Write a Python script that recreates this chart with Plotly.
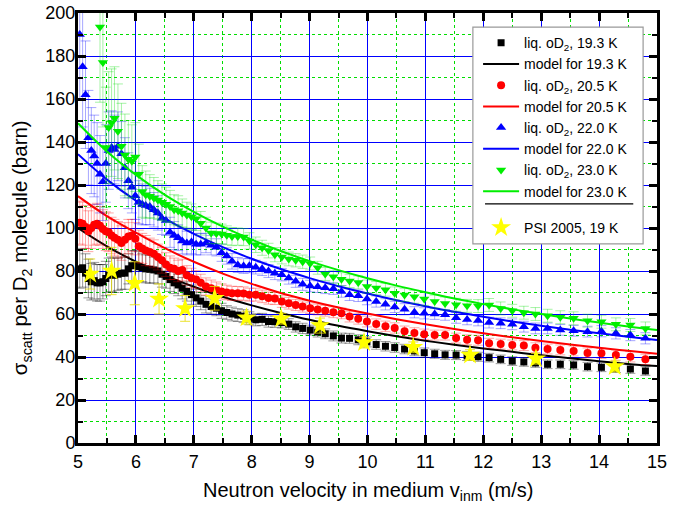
import plotly.graph_objects as go

# neutron velocity (m/s) of the measured points
v_data = [
    5.03, 5.08, 5.13, 5.18, 5.23, 5.28, 5.33, 5.38, 5.43, 5.48, 5.53, 5.58, 5.63, 5.69, 5.75, 5.81, 5.87, 5.93, 5.99,
    6.05, 6.11, 6.17, 6.24, 6.31, 6.38, 6.45, 6.52, 6.59, 6.66, 6.73, 6.80, 6.88, 6.96,
    7.04, 7.12, 7.21, 7.30, 7.39, 7.48, 7.57, 7.66, 7.76, 7.86, 7.96,
    8.07, 8.18, 8.29, 8.40, 8.52, 8.64, 8.76, 8.88,
    9.01, 9.14, 9.27, 9.41, 9.55, 9.69, 9.84, 9.99,
    10.15, 10.31, 10.47, 10.64, 10.81, 10.98,
    11.16, 11.34, 11.53, 11.72, 11.91,
    12.10, 12.30, 12.50, 12.70, 12.90,
    13.11, 13.33, 13.56, 13.80,
    14.04, 14.29, 14.54, 14.80,
]

s193 = [
    81, 81.5, 79, 76.5, 75, 75.5, 74.5, 74.5, 75, 76.5, 78, 78.5, 78, 78.5, 79, 79, 81, 82.5, 82.5,
    82, 81.5, 81, 80.8, 80.5, 80, 78.5, 77.5, 76, 74.5, 73.5, 72, 70.5, 69,
    67.5, 66, 64.5, 63.5, 62.7, 61.5, 60.7, 60, 59.5, 59, 58,
    57.3, 57.5, 56.5, 56.4, 56, 55.3, 54, 53.3,
    52.5, 51.6, 50.8, 49.8, 48.8, 48.7, 48, 47,
    45.8, 45, 44.4, 43.7, 42.8, 42,
    41.5, 41, 40.9, 40.5, 40.1,
    39.7, 38.9, 38.1, 37.7, 37.2,
    36.6, 36.6, 36.3, 35.5,
    35.2, 34.8, 34.4, 33.5,
]
e193 = [
    9, 9, 9, 9, 8.5, 8.5, 8.5, 8.5, 8, 8, 8, 8, 8, 7.5, 7.5, 7.5, 7, 7, 7,
    7, 6.5, 6.5, 6.5, 6, 6, 6, 5.5, 5.5, 5, 5, 5, 4.5, 4.5,
    4, 4, 4, 3.5, 3.5, 3.5, 3.2, 3.2, 3, 3, 3,
    2.8, 2.8, 2.6, 2.6, 2.5, 2.5, 2.4, 2.4,
    2.3, 2.3, 2.3, 2.3, 2.3, 2.3, 2.3, 2.3,
    2.2, 2.2, 2.2, 2.2, 2.2, 2.2,
    2.1, 2.1, 2.1, 2.1, 2.1,
    2, 2, 2, 2, 2,
    2, 2, 2, 2,
    2, 2, 2, 2,
]

s205 = [
    102.5, 102, 100.5, 98.5, 100, 101.5, 102, 101, 99.5, 98.5, 98, 96.5, 95.5, 94.5, 93, 94.5, 96, 96.5, 95,
    91.5, 90.5, 89.5, 88.8, 88, 86.5, 85, 83, 81.5, 81, 80, 80.5, 78, 76.8,
    76, 74.5, 72.8, 72, 71.3, 70.5, 70, 69.6, 69.6, 69.5, 69,
    69, 68.2, 67.4, 67.2, 65.8, 65, 64.2, 63.5,
    62.7, 62.1, 61.5, 60.8, 60.3, 58.8, 57.8, 56.5,
    55.3, 54.3, 53.5, 52, 51.2, 50.6,
    50.2, 50.2, 48.8, 48, 47.8,
    46.4, 46, 45.6, 45.3, 44.3,
    43.7, 43.3, 42.8, 41.9,
    41.7, 40.9, 40.1, 38.9,
]
e205 = [
    10, 10, 10, 9.5, 9.5, 9.5, 9.5, 9, 9, 9, 9, 8.5, 8.5, 8.5, 8, 8, 8, 7.5, 7.5,
    7.5, 7, 7, 6.5, 6.5, 6, 6, 5.5, 5.5, 5, 5, 5, 4.5, 4.5,
    4.2, 4, 4, 3.8, 3.6, 3.5, 3.4, 3.3, 3.2, 3.1, 3,
    3, 2.9, 2.8, 2.8, 2.7, 2.7, 2.6, 2.6,
    2.5, 2.5, 2.5, 2.5, 2.5, 2.5, 2.5, 2.5,
    2.4, 2.4, 2.4, 2.4, 2.4, 2.4,
    2.3, 2.3, 2.3, 2.3, 2.3,
    2.3, 2.3, 2.3, 2.3, 2.3,
    2.3, 2.3, 2.3, 2.3,
    2.4, 2.4, 2.4, 2.4,
]

s220 = [
    190, 175, 162, 142, 136, 133.5, 130, 125, 121.5, 130, 136, 137.5, 136.5, 138, 134.5, 128, 122, 119, 115,
    112, 111, 110.5, 110, 108.5, 107, 104.5, 103.5, 98, 96.5, 95.5, 94, 93, 93.5,
    92.5, 92.5, 93, 92, 91, 88.5, 87, 84.5, 82.8, 82.3, 82.5,
    81.8, 81, 80, 79, 78.3, 76.8, 75.2, 73.8,
    73, 72.7, 72.2, 71.8, 70.5, 69, 68.5, 67,
    65.8, 64.5, 63.3, 62.2, 60.8, 60.3,
    60, 59.6, 58.2, 57.5, 57,
    56, 55.7, 55.2, 54.1, 53.3,
    53.3, 52.6, 52.2, 51.8,
    52, 51, 50.2, 48.7,
]
e220 = [
    30, 28, 25, 22, 20, 19, 19, 18, 18, 18, 18, 17, 16, 16, 15, 14, 13, 12, 11,
    10, 9.5, 9, 8.5, 8, 8, 7.5, 7, 7, 6.5, 6, 6, 5.5, 5.5,
    5, 5, 4.5, 4.5, 4, 4, 3.8, 3.6, 3.5, 3.4, 3.3,
    3.2, 3.1, 3, 3, 2.9, 2.9, 2.8, 2.8,
    2.7, 2.7, 2.7, 2.7, 2.7, 2.7, 2.7, 2.7,
    2.6, 2.6, 2.6, 2.6, 2.6, 2.6,
    2.5, 2.5, 2.5, 2.5, 2.5,
    2.5, 2.5, 2.5, 2.5, 2.5,
    2.5, 2.5, 2.5, 2.5,
    2.6, 2.6, 2.6, 2.6,
]

s230 = [
    None, None, None, None, None, None, None, 193.5, 177, 137.5, 146.7, 149, 151, 145, 138, 134, 132, 131, 133,
    125, 117, 115.5, 114.8, 114, 113, 112, 111, 110, 108.5, 108, 107, 106, 105.2,
    104.3, 102.2, 100, 97.7, 97.5, 97.2, 96.6, 96, 96, 95.8, 94,
    92.2, 90.8, 89.5, 87.6, 86.5, 85.6, 85, 84.3,
    83.5, 81.5, 78.6, 77.3, 76.2, 75.3, 74.7, 72.8,
    72.1, 71.3, 69.6, 68.8, 68, 67,
    65.8, 64.9, 64.3, 63.8, 63.7,
    64.2, 62.6, 61.5, 60.6, 60,
    59.2, 58.5, 58, 56.9,
    56.4, 55.2, 54.9, 53.3,
]
e230 = [
    0, 0, 0, 0, 0, 0, 0, 35, 30, 28, 26, 25, 24, 22, 20, 19, 18, 17, 16,
    14, 12, 11, 10, 9.5, 9, 8.5, 8, 7.5, 7, 7, 6.5, 6, 6,
    5.5, 5.5, 5, 5, 4.8, 4.6, 4.4, 4.2, 4, 4, 3.8,
    3.6, 3.5, 3.4, 3.3, 3.2, 3.2, 3.1, 3.1,
    3, 3, 3, 3, 3, 3, 3, 3,
    3, 3, 3, 3, 3, 3,
    3, 3, 3, 3, 3,
    3, 3, 3, 3, 3,
    3, 3, 3, 3,
    3, 3, 3, 3,
]

# model curves
v_model = [5, 5.5, 6, 6.5, 7, 7.5, 8, 8.5, 9, 9.5, 10, 10.5, 11, 11.5, 12, 12.5, 13, 13.5, 14, 14.5, 15]
m193 = [100, 91.5, 84.3, 78, 72.7, 68, 64, 60.5, 57.3, 54.5, 52, 49.7, 47.6, 45.7, 44, 42.4, 40.8, 39.4, 38, 36.8, 35.8]
m205 = [114.8, 105.5, 97.8, 90.6, 84.3, 78.8, 74, 69.8, 66.2, 63, 60.2, 57.6, 55.2, 53, 51, 49.2, 47.4, 45.8, 44.3, 42.9, 41.5]
m220 = [134.3, 122.5, 112.7, 104.4, 97.3, 91.1, 85.7, 80.9, 76.7, 72.9, 69.5, 66.4, 63.6, 61, 58.7, 56.5, 54.5, 52.7, 51, 49.4, 47.9]
m230 = [148.7, 135.6, 124.7, 115.4, 107.5, 100.6, 94.6, 89.3, 84.6, 80.4, 76.6, 73.2, 70.1, 67.2, 64.6, 62.2, 60, 57.9, 56, 54.2, 52.6]

# PSI 2005 points
v_psi = [5.21, 5.58, 5.98, 6.40, 6.85, 7.36, 7.91, 8.51, 9.18, 9.94, 10.79, 11.77, 12.91, 14.27]
s_psi = [78.6, 80, 74.3, 67, 62.6, 67.3, 58.3, 57.8, 54.6, 46.7, 44.5, 40.9, 39.2, 35.6]
e_psi = [7, 11, 10, 7, 6, 5.5, 3, 2.5, 3.5, 2.5, 2.5, 2.5, 2.5, 2.5]

for arr in (s193, e193, s205, e205, s220, e220, s230, e230):
    assert len(arr) == len(v_data), len(arr)

FONT = "Liberation Sans, Arial, sans-serif"
fig = go.Figure()

series = [
    ("liq. oD<sub>2</sub>, 19.3 K", s193, e193, "#000000", "rgba(0,0,0,0.4)", "square", 7,
     "model for 19.3 K", m193),
    ("liq. oD<sub>2</sub>, 20.5 K", s205, e205, "#ff0000", "rgba(255,0,0,0.35)", "circle", 8,
     "model for 20.5 K", m205),
    ("liq. oD<sub>2</sub>, 22.0 K", s220, e220, "#0000ff", "rgba(0,0,255,0.35)", "triangle-up", 9,
     "model for 22.0 K", m220),
    ("liq. oD<sub>2</sub>, 23.0 K", s230, e230, "#00ee00", "rgba(0,220,0,0.35)", "triangle-down", 9,
     "model for 23.0 K", m230),
]

for name, ys, es, col, ecol, sym, size, mname, my in series:
    fig.add_trace(go.Scatter(
        x=v_data, y=ys, mode="markers", name=name, legendgroup="a",
        marker=dict(symbol=sym, size=size, color=col, line=dict(width=0)),
        error_y=dict(type="data", array=es, color=ecol, thickness=1, width=5),
    ))
    fig.add_trace(go.Scatter(
        x=v_model, y=my, mode="lines", name=mname, legendgroup="a",
        line=dict(color=col, width=2, shape="spline"),
    ))

fig.add_trace(go.Scatter(
    x=v_psi, y=s_psi, mode="markers", name="PSI 2005, 19 K", legendgroup="b",
    marker=dict(symbol="star", size=15, color="#ffff00", line=dict(width=0)),
    error_y=dict(type="data", array=e_psi, color="rgba(230,220,0,0.8)", thickness=1, width=5),
))

axis_common = dict(
    showline=True, linewidth=3, linecolor="black", mirror="allticks",
    ticks="inside", ticklen=8, tickwidth=2.5, tickcolor="black",
    showgrid=True, gridcolor="#0000ff", gridwidth=1.2, zeroline=False,
    tickfont=dict(family=FONT, size=18, color="black"),
    automargin=False,
)

fig.update_xaxes(
    range=[5, 15], tick0=5, dtick=1,
    minor=dict(dtick=0.5, showgrid=True, gridcolor="#00dd00", griddash="dot", gridwidth=1,
               ticks="inside", ticklen=5, tickwidth=2, tickcolor="black"),
    **axis_common,
)
fig.update_yaxes(
    range=[0, 200], tick0=0, dtick=20, ticklabelstandoff=-4,
    minor=dict(dtick=10, showgrid=True, gridcolor="#00dd00", griddash="dot", gridwidth=1,
               ticks="inside", ticklen=5, tickwidth=2, tickcolor="black"),
    **axis_common,
)

# axis titles
fig.add_annotation(text="Neutron velocity in medium v<sub>inm</sub> (m/s)",
                   xref="paper", yref="paper", x=0.5, y=-0.112,
                   xanchor="center", yanchor="middle", showarrow=False,
                   font=dict(family=FONT, size=20, color="black"))
fig.add_annotation(text="σ<sub>scatt</sub> per D<sub>2</sub> molecule (barn)",
                   xref="paper", yref="paper", x=-0.097, y=0.455, textangle=-90,
                   xanchor="center", yanchor="middle", showarrow=False,
                   font=dict(family=FONT, size=20.5, color="black"))

# legend frame (drawn as shapes so that the separator line shows)
fig.add_shape(type="rect", xref="paper", yref="paper", layer="above",
              x0=0.682, x1=0.976, y0=0.463, y1=0.967,
              fillcolor="white", line=dict(color="#999999", width=1.2))
fig.add_shape(type="line", xref="paper", yref="paper", layer="above",
              x0=0.703, x1=0.959, y0=0.556, y1=0.556,
              line=dict(color="black", width=1.2))

fig.update_layout(
    width=689, height=506,
    margin=dict(l=78, r=32, t=13, b=63),
    paper_bgcolor="white", plot_bgcolor="white",
    showlegend=True,
    legend=dict(
        x=0.691, y=0.967, xanchor="left", yanchor="top",
        bgcolor="rgba(0,0,0,0)", borderwidth=0,
        font=dict(family=FONT, size=14, color="black"),
        tracegroupgap=15, itemwidth=36,
    ),
    font=dict(family=FONT),
)

fig.write_html("out.html", config={"displayModeBar": False},
               post_script="document.body.style.margin='0';")
